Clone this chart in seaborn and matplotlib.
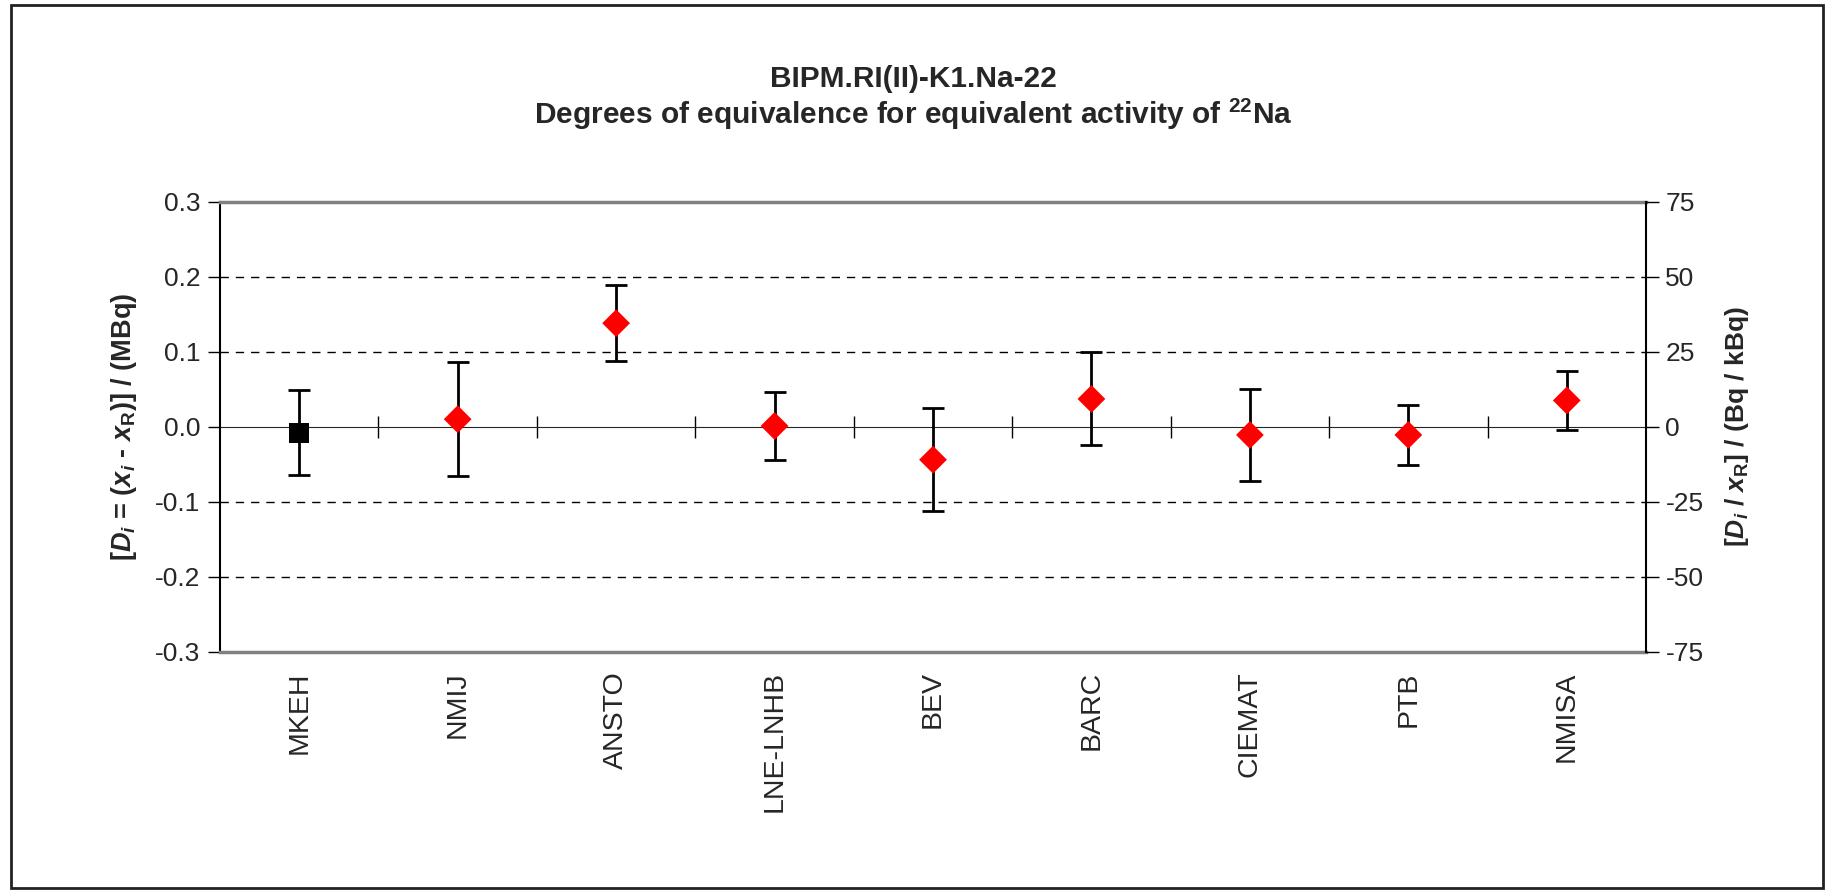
import matplotlib
matplotlib.use("Agg")
import matplotlib.pyplot as plt
import matplotlib.patches as mpatches
import seaborn as sns
import pandas as pd

labs = ['MKEH', 'NMIJ', 'ANSTO', 'LNE-LNHB', 'BEV', 'BARC', 'CIEMAT', 'PTB', 'NMISA']
di = [-0.008, 0.010, 0.138, 0.001, -0.044, 0.037, -0.011, -0.011, 0.035]
ui = [0.057, 0.076, 0.051, 0.045, 0.069, 0.062, 0.061, 0.040, 0.039]
grp = ['pilot', 'other', 'other', 'other', 'other', 'other', 'other', 'other', 'other']
yticks_l = [-0.3, -0.2, -0.1, 0.0, 0.1, 0.2, 0.3]
yticks_r = [-75, -50, -25, 0, 25, 50, 75]

df = pd.DataFrame({'lab': labs, 'di': di, 'ui': ui, 'grp': grp})

sns.set_style('white')
plt.rcParams['font.family'] = ['Liberation Sans', 'DejaVu Sans']
plt.rcParams['mathtext.fontset'] = 'custom'
plt.rcParams['mathtext.rm'] = 'Liberation Sans'
plt.rcParams['mathtext.bf'] = 'Liberation Sans:bold'
plt.rcParams['mathtext.it'] = 'Liberation Sans:italic'
plt.rcParams['mathtext.bfit'] = 'Liberation Sans:bold:italic'

fig = plt.figure(figsize=(18.26, 8.93), dpi=100)
ax = fig.add_axes([220/1826, 1-651.7/893, (1646-220)/1826, (651.7-201.7)/893])

# error bars then markers
ax.errorbar(df['lab'], df['di'], yerr=df['ui'], fmt='none', ecolor='black',
            elinewidth=2, capsize=8, capthick=2, zorder=3)
sns.scatterplot(data=df, x='lab', y='di', hue='grp', style='grp',
                palette={'pilot': 'black', 'other': 'red'},
                markers={'pilot': 's', 'other': 'D'},
                s=200, linewidth=0, legend=False, ax=ax, zorder=4)

ax.set_xlim(-0.5, len(labs) - 0.5)
ax.set_ylim(-0.3, 0.3)
ax.set_yticks(yticks_l)
ax.set_yticklabels([f'{v:.1f}' for v in yticks_l], fontsize=19)
ax.tick_params(axis='y', direction='out', length=9, width=1, color='black', pad=5)
ax.tick_params(axis='x', length=0, pad=14)
ax.set_xticks(range(len(labs)))
ax.set_xticklabels(labs, rotation=90, fontsize=20.5, va='top')
ax.set_xlabel('')

for v in [-0.2, -0.1, 0.1, 0.2]:
    ax.axhline(v, color='black', lw=1, ls=(0, (6, 5)), zorder=1)

# zero axis with category boundary ticks
zax = ax.secondary_xaxis(0.5)
zax.set_xticks([i + 0.5 for i in range(len(labs) - 1)])
zax.set_xticklabels([])
zax.tick_params(direction='inout', length=16, width=1, color='black')
zax.spines['bottom'].set_color('black')
zax.spines['bottom'].set_linewidth(1.2)

for s in ['top', 'bottom']:
    ax.spines[s].set_color('#808080')
    ax.spines[s].set_linewidth(2.5)
ax.spines['left'].set_color('black')
ax.spines['left'].set_linewidth(1.5)
ax.spines['right'].set_visible(False)

ax.set_ylabel(r'[$\mathbfit{D}_{\mathbfit{i}}$ = ($\mathbfit{x}_{\mathbfit{i}}$ - $\mathbfit{x}_{\mathbf{R}}$)] / (MBq)',
              fontsize=19.5, fontweight='bold', labelpad=12)

ax2 = ax.twinx()
ax2.set_ylim(-75, 75)
ax2.set_yticks(yticks_r)
ax2.set_yticklabels([str(v) for v in yticks_r], fontsize=19)
ax2.tick_params(axis='y', direction='out', length=9, width=1, color='black', pad=5)
for s in ['top', 'bottom', 'left']:
    ax2.spines[s].set_visible(False)
ax2.spines['right'].set_color('black')
ax2.spines['right'].set_linewidth(1.5)
ax2.set_ylabel(r'[$\mathbfit{D}_{\mathbfit{i}}$ / $\mathbfit{x}_{\mathbf{R}}$] / (Bq / kBq)',
               fontsize=19, fontweight='bold', labelpad=14)

fig.text(0.5, 1-79/893, 'BIPM.RI(II)-K1.Na-22', ha='center', va='center',
         fontsize=21.5, fontweight='bold')
fig.text(0.5, 1-114/893, r'Degrees of equivalence for equivalent activity of $^{\mathbf{22}}$Na',
         ha='center', va='center', fontsize=21.5, fontweight='bold')

fig.patches.append(mpatches.Rectangle((11/1826, 5/893), (1823-11)/1826, (888-5)/893,
                                      transform=fig.transFigure, fill=False,
                                      edgecolor='#222222', linewidth=2))

fig.savefig('out.png', dpi=100)
